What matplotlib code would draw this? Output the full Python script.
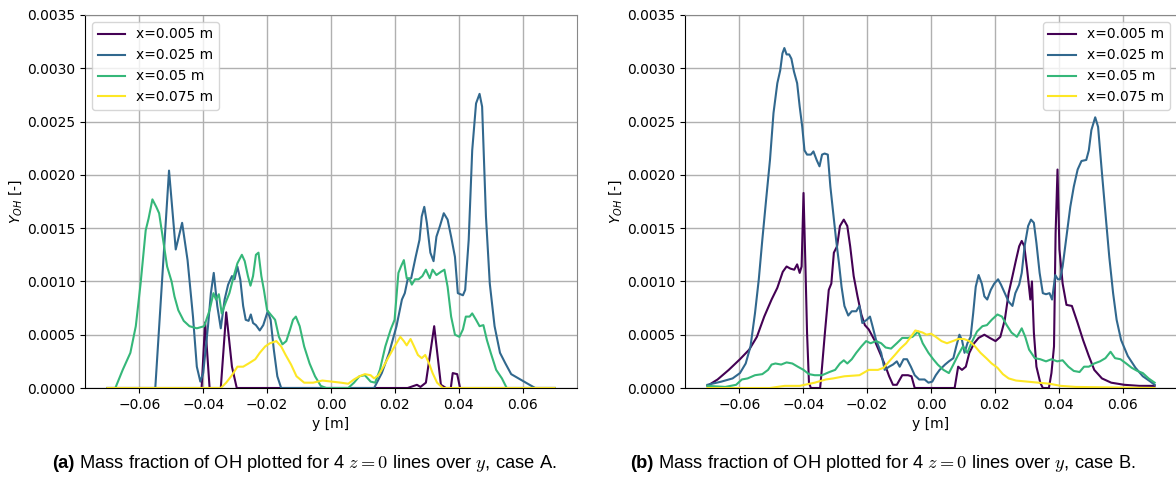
import numpy as np
import matplotlib
matplotlib.use('Agg')
import matplotlib.pyplot as plt

# line positions (x) and colours taken from viridis
labels = ['x=0.005 m', 'x=0.025 m', 'x=0.05 m', 'x=0.075 m']
colors = ['#440154', '#31688e', '#35b779', '#fde725']

# ---------- case A ----------
a_y1 = [-0.07, -0.0405, -0.0394, -0.038, -0.0345, -0.0328, -0.031, -0.0295, -0.028,
        0.024, 0.0269, 0.028, 0.0297, 0.0323, 0.0344, 0.036, 0.0375, 0.0381, 0.0395, 0.0404, 0.041, 0.07]
a_Y1 = [0, 0, 0.000615, 0, 0, 0.00071, 0.0002, 0, 0,
        0, 0.00003, 0.00001, 0.00005, 0.00058, 0.00003, 0, 0, 0.00014, 0.00013, 0, 0, 0]

a_y2 = [-0.07, -0.055, -0.0507, -0.0486, -0.0466, -0.0449, -0.0432, -0.042, -0.0409, -0.040,
        -0.0385, -0.0376, -0.0367, -0.0356, -0.0345, -0.0333, -0.0322, -0.031, -0.0302, -0.0293,
        -0.0284, -0.0275, -0.0267, -0.0258, -0.0251, -0.0244, -0.0235, -0.0223, -0.0212, -0.0198,
        -0.0189, -0.0179, -0.0168, -0.0156, 0.0135, 0.0159, 0.0182, 0.0205, 0.0222, 0.0231,
        0.024, 0.0251, 0.0265, 0.0277, 0.0284, 0.0292, 0.030, 0.0311, 0.0321, 0.033,
        0.0341, 0.0353, 0.0365, 0.0376, 0.0388, 0.0397, 0.0413, 0.042, 0.0431, 0.0442,
        0.0454, 0.0465, 0.0473, 0.0485, 0.0497, 0.0512, 0.0529, 0.0546, 0.0564, 0.0587,
        0.061, 0.0639, 0.07]
a_Y2 = [0, 0, 0.00204, 0.0013, 0.00155, 0.0012, 0.00067, 0.0002, 0.00006, 0.00014,
        0.00058, 0.00089, 0.00108, 0.00077, 0.00056, 0.00083, 0.00097, 0.00105, 0.00102, 0.00114,
        0.00102, 0.00077, 0.00064, 0.00063, 0.00069, 0.00061, 0.00059, 0.00054, 0.00059, 0.00072,
        0.00064, 0.00036, 0.00011, 0, 0, 0.00014, 0.00033, 0.00058, 0.00083, 0.00089,
        0.00102, 0.00103, 0.00123, 0.00139, 0.00161, 0.0017, 0.00155, 0.00127, 0.00119, 0.00142,
        0.00152, 0.00164, 0.00158, 0.00142, 0.00123, 0.00089, 0.00087, 0.00092, 0.00139, 0.00223,
        0.00267, 0.00276, 0.00264, 0.00161, 0.00098, 0.00058, 0.00033, 0.00023, 0.00013, 0.00009,
        0.00005, 0, 0]

a_y3 = [-0.07, -0.0675, -0.0652, -0.0628, -0.0611, -0.0596, -0.058, -0.0571, -0.0559, -0.0547,
        -0.0538, -0.0524, -0.0513, -0.0499, -0.049, -0.0478, -0.0461, -0.0443, -0.042, -0.0397,
        -0.038, -0.0368, -0.036, -0.0351, -0.0342, -0.033, -0.0318, -0.0307, -0.0293, -0.0279,
        -0.027, -0.026, -0.0252, -0.0244, -0.0235, -0.0227, -0.0218, -0.021, -0.020, -0.0189,
        -0.0175, -0.0163, -0.0152, -0.014, -0.0128, -0.0119, -0.011, -0.0098, -0.0084, -0.0067,
        -0.005, -0.0032, -0.0015, 0.0054, 0.0072, 0.0089, 0.0106, 0.0124, 0.0138, 0.0153,
        0.017, 0.0187, 0.0199, 0.0211, 0.0219, 0.0228, 0.0237, 0.0245, 0.0253, 0.0263,
        0.0274, 0.0286, 0.0297, 0.0309, 0.0318, 0.033, 0.0344, 0.0355, 0.0365, 0.0376,
        0.0388, 0.0402, 0.0413, 0.0422, 0.0434, 0.0442, 0.0454, 0.0465, 0.0477, 0.0488,
        0.050, 0.0517, 0.0535, 0.055, 0.07]
a_Y3 = [0, 0, 0.00017, 0.00033, 0.00058, 0.00098, 0.00148, 0.00159, 0.00177, 0.0017,
        0.00164, 0.00136, 0.00114, 0.001, 0.00086, 0.00073, 0.00063, 0.00058, 0.00056, 0.00058,
        0.00073, 0.00089, 0.00083, 0.00088, 0.0007, 0.0008, 0.00089, 0.00102, 0.00117, 0.00125,
        0.00119, 0.00105, 0.00096, 0.00105, 0.00125, 0.00127, 0.00105, 0.00092, 0.00073, 0.00069,
        0.00064, 0.00048, 0.00041, 0.00044, 0.00055, 0.00064, 0.00067, 0.00058, 0.00039, 0.00023,
        0.00011, 0.00002, 0, 0, 0.00005, 0.00011, 0.00012, 0.00006, 0.00005, 0.00017,
        0.00039, 0.00055, 0.00064, 0.00108, 0.00114, 0.0012, 0.00103, 0.00103, 0.00097, 0.00102,
        0.00102, 0.00105, 0.00111, 0.00103, 0.00111, 0.00106, 0.00109, 0.00111, 0.00095, 0.00067,
        0.0005, 0.00048, 0.00055, 0.00067, 0.00067, 0.0007, 0.00064, 0.00058, 0.00059, 0.00045,
        0.00033, 0.00017, 0.00009, 0, 0]

a_y4 = [-0.07, -0.0345, -0.0328, -0.031, -0.0293, -0.0275, -0.0258, -0.0237, -0.0223, -0.0206,
        -0.0191, -0.0171, -0.0156, -0.0142, -0.0125, -0.0108, -0.0084, -0.0056, -0.0027, 0.0002,
        0.0031, 0.0054, 0.0072, 0.0089, 0.0106, 0.0124, 0.0135, 0.0149, 0.0164, 0.0182,
        0.0199, 0.0217, 0.0228, 0.0237, 0.0249, 0.026, 0.0272, 0.0284, 0.0295, 0.0307,
        0.0318, 0.0332, 0.035, 0.07]
a_Y4 = [0, 0, 0.00005, 0.00012, 0.0002, 0.0002, 0.00023, 0.00027, 0.00033, 0.00039,
        0.00042, 0.00044, 0.00039, 0.00031, 0.00022, 0.00011, 0.00005, 0.00005, 0.00007, 0.00006,
        0.00005, 0.00004, 0.00008, 0.00011, 0.00013, 0.00012, 0.00009, 0.00012, 0.0002, 0.0003,
        0.00039, 0.00048, 0.00044, 0.0004, 0.00046, 0.00039, 0.00031, 0.00028, 0.00031, 0.00023,
        0.00014, 0.00005, 0, 0]

# ---------- case B ----------
b_y1 = [-0.07, -0.0668, -0.0633, -0.0598, -0.0569, -0.0545, -0.0522, -0.0499, -0.0481, -0.0464,
        -0.0452, -0.044, -0.0428, -0.0419, -0.0411, -0.0405, -0.0399, -0.0393, -0.0388, -0.0382,
        -0.0376, -0.0347, -0.0341, -0.0332, -0.032, -0.0312, -0.0304, -0.0294, -0.0285, -0.0273,
        -0.0262, -0.0253, -0.0242, -0.023, -0.0218, -0.0207, -0.0195, -0.0177, -0.016, -0.0142,
        -0.0131, -0.0119, -0.0107, -0.009, -0.0072, -0.0061, -0.0051, 0.0074, 0.0085, 0.0097,
        0.0109, 0.012, 0.0135, 0.0149, 0.0167, 0.0184, 0.0202, 0.0217, 0.0231, 0.0243,
        0.0255, 0.0266, 0.0276, 0.0284, 0.0292, 0.0301, 0.0311, 0.0316, 0.0322, 0.033,
        0.0342, 0.035, 0.0369, 0.0377, 0.0385, 0.039, 0.0396, 0.0402, 0.0412, 0.0424,
        0.0441, 0.0459, 0.0476, 0.0494, 0.0511, 0.0535, 0.0564, 0.0605, 0.0652, 0.07]
b_Y1 = [0.00002, 0.00008, 0.00017, 0.00027, 0.00036, 0.00048, 0.00067, 0.00083, 0.00094, 0.00109,
        0.00114, 0.00112, 0.00111, 0.00116, 0.00108, 0.00114, 0.00183, 0.00114, 0.00052, 0.00005,
        0, 0, 0.0002, 0.00052, 0.00092, 0.00098, 0.00127, 0.00133, 0.00152, 0.00158,
        0.00152, 0.00133, 0.00105, 0.00086, 0.00069, 0.00059, 0.00055, 0.00045, 0.00033, 0.0002,
        0.00011, 0.00003, 0.00003, 0.00012, 0.00012, 0.00011, 0, 0, 0.0002, 0.00017,
        0.0002, 0.00033, 0.00042, 0.00047, 0.0005, 0.00047, 0.00044, 0.00048, 0.00064, 0.00089,
        0.00105, 0.0012, 0.00133, 0.00138, 0.00133, 0.00111, 0.00083, 0.001, 0.00052, 0.0002,
        0.00005, 0, 0, 0.00014, 0.00039, 0.00145, 0.00205, 0.0013, 0.00098, 0.00078,
        0.00077, 0.00061, 0.00045, 0.0003, 0.00017, 0.00009, 0.00005, 0.00003, 0.00002, 0.00002]

b_y2 = [-0.07, -0.0656, -0.0621, -0.0598, -0.058, -0.0565, -0.0551, -0.0539, -0.0528, -0.0516,
        -0.0504, -0.0493, -0.0481, -0.0472, -0.0465, -0.0459, -0.0452, -0.0444, -0.0437, -0.0429,
        -0.0419, -0.0411, -0.0403, -0.0396, -0.0388, -0.0376, -0.0368, -0.0358, -0.0349, -0.0341,
        -0.0333, -0.0323, -0.0315, -0.0306, -0.0297, -0.0288, -0.028, -0.0271, -0.0259, -0.0248,
        -0.0234, -0.0224, -0.0215, -0.0201, -0.0191, -0.0183, -0.0172, -0.0156, -0.0145, -0.0131,
        -0.0119, -0.0107, -0.0098, -0.0086, -0.0075, -0.0063, -0.0051, -0.0037, -0.002, -0.0008,
        0.0004, 0.0015, 0.0027, 0.0044, 0.0056, 0.007, 0.0079, 0.0089, 0.0097, 0.0105,
        0.0114, 0.0124, 0.0132, 0.014, 0.0149, 0.0159, 0.0167, 0.0176, 0.0187, 0.0198,
        0.021, 0.0219, 0.0231, 0.0243, 0.0255, 0.0264, 0.0276, 0.0284, 0.0293, 0.0304,
        0.0313, 0.0322, 0.033, 0.034, 0.035, 0.036, 0.0371, 0.0379, 0.0389, 0.0397,
        0.0404, 0.0412, 0.0424, 0.0436, 0.0447, 0.0459, 0.0471, 0.0486, 0.0494, 0.0502,
        0.0514, 0.0523, 0.0535, 0.0546, 0.0558, 0.057, 0.0581, 0.0595, 0.0616, 0.064,
        0.0663, 0.0687, 0.07]
b_Y2 = [0.00003, 0.00006, 0.00009, 0.00014, 0.00023, 0.00039, 0.0007, 0.00102, 0.00139, 0.00177,
        0.00214, 0.00258, 0.00286, 0.00298, 0.00314, 0.00319, 0.00313, 0.00313, 0.00309, 0.00297,
        0.00286, 0.00264, 0.00245, 0.00223, 0.00219, 0.00219, 0.00222, 0.00214, 0.00208, 0.00219,
        0.0022, 0.00219, 0.00189, 0.00164, 0.00139, 0.00117, 0.00095, 0.00077, 0.00068, 0.00072,
        0.00072, 0.00077, 0.00061, 0.00064, 0.00067, 0.00058, 0.00045, 0.00033, 0.00017, 0.0002,
        0.00022, 0.00025, 0.0002, 0.00027, 0.00027, 0.0002, 0.00012, 0.00008, 0.00008, 0.00005,
        0.00006, 0.00012, 0.00017, 0.00022, 0.00025, 0.00028, 0.00039, 0.0005, 0.00045, 0.00033,
        0.00042, 0.00048, 0.0007, 0.00095, 0.00106, 0.00098, 0.00086, 0.00083, 0.00092, 0.00098,
        0.00102, 0.00097, 0.00089, 0.00081, 0.00077, 0.00089, 0.00097, 0.00108, 0.00133, 0.00152,
        0.00158, 0.00155, 0.00136, 0.00108, 0.00089, 0.00088, 0.00089, 0.00083, 0.00106, 0.00102,
        0.00102, 0.00114, 0.00142, 0.0017, 0.00189, 0.00205, 0.00213, 0.00214, 0.00223, 0.00242,
        0.00254, 0.00245, 0.00202, 0.00164, 0.00123, 0.00089, 0.00064, 0.00045, 0.0003, 0.00019,
        0.00011, 0.00006, 0.00003]

b_y3 = [-0.07, -0.0644, -0.061, -0.0592, -0.0574, -0.0551, -0.0528, -0.051, -0.0499, -0.0487,
        -0.0469, -0.0452, -0.0434, -0.0417, -0.0399, -0.0382, -0.0364, -0.0341, -0.0318, -0.030,
        -0.0285, -0.0273, -0.0262, -0.0248, -0.0234, -0.0218, -0.0203, -0.0189, -0.0172, -0.0156,
        -0.0142, -0.0125, -0.0107, -0.009, -0.0072, -0.0058, -0.004, -0.0026, -0.0008, 0.0007,
        0.0021, 0.0039, 0.0056, 0.007, 0.0085, 0.010, 0.0114, 0.0126, 0.0144, 0.0161,
        0.0175, 0.019, 0.0208, 0.0222, 0.0237, 0.0252, 0.0269, 0.0284, 0.0295, 0.0307,
        0.0325, 0.0342, 0.036, 0.0377, 0.0395, 0.0412, 0.043, 0.0447, 0.0465, 0.0479,
        0.0494, 0.0511, 0.0529, 0.0546, 0.0562, 0.0576, 0.0593, 0.0611, 0.0628, 0.0646,
        0.0663, 0.0681, 0.07]
b_Y3 = [0.00002, 0.00001, 0.00003, 0.00008, 0.00009, 0.00012, 0.00013, 0.00017, 0.00022, 0.00023,
        0.00022, 0.00024, 0.00023, 0.0002, 0.00017, 0.00013, 0.00012, 0.00012, 0.00015, 0.00017,
        0.00023, 0.00026, 0.00023, 0.00027, 0.00033, 0.00039, 0.00044, 0.00042, 0.00044, 0.00042,
        0.00038, 0.00037, 0.00042, 0.00047, 0.00047, 0.00048, 0.00053, 0.00042, 0.00033, 0.00027,
        0.00022, 0.00017, 0.00014, 0.00022, 0.00031, 0.00039, 0.00033, 0.00042, 0.00053, 0.00058,
        0.00059, 0.00064, 0.00069, 0.00067, 0.00059, 0.00052, 0.00048, 0.00056, 0.00048, 0.00036,
        0.00028, 0.00027, 0.00025, 0.00027, 0.00025, 0.00026, 0.0002, 0.00016, 0.00015, 0.0002,
        0.0002, 0.00023, 0.00025, 0.00028, 0.00034, 0.00028, 0.00027, 0.00023, 0.00019, 0.00016,
        0.00014, 0.00009, 0.00005]

b_y4 = [-0.07, -0.0504, -0.0458, -0.0411, -0.0364, -0.0329, -0.0306, -0.0271, -0.0224, -0.0195,
        -0.0166, -0.0148, -0.0131, -0.0113, -0.0096, -0.0078, -0.0063, -0.0049, -0.0037, -0.0026,
        -0.0014, 0.0, 0.0015, 0.0033, 0.005, 0.0068, 0.0085, 0.0103, 0.012, 0.0138,
        0.0155, 0.0173, 0.019, 0.0208, 0.0225, 0.0243, 0.0266, 0.0301, 0.0336, 0.0371,
        0.0406, 0.0453, 0.07]
b_Y4 = [0, 0, 0.00002, 0.00002, 0.00005, 0.00008, 0.00009, 0.00011, 0.00012, 0.00017,
        0.00017, 0.00019, 0.00025, 0.00031, 0.00037, 0.00042, 0.00048, 0.00054, 0.00053, 0.00052,
        0.0005, 0.00051, 0.00048, 0.00044, 0.00042, 0.00044, 0.00046, 0.00046, 0.00044, 0.00039,
        0.00033, 0.00028, 0.00023, 0.00019, 0.00013, 0.00009, 0.00007, 0.00006, 0.00005, 0.00004,
        0.00002, 0.00001, 0]

case_a = [(a_y1, a_Y1), (a_y2, a_Y2), (a_y3, a_Y3), (a_y4, a_Y4)]
case_b = [(b_y1, b_Y1), (b_y2, b_Y2), (b_y3, b_Y3), (b_y4, b_Y4)]


def plot_case(ax, lines, legend_loc):
    for (y, Y), lab, c in zip(lines, labels, colors):
        ax.plot(y, Y, color=c, lw=1.5, label=lab)
    ax.set_ylim(0, 0.0035)
    ax.set_xlabel('y [m]', fontsize=10)
    ax.set_ylabel(r'$Y_{OH}$ [-]', fontsize=10, labelpad=2)
    ax.tick_params(labelsize=10)
    ax.grid(True, color='#b0b0b0', lw=1.0)
    ax.set_axisbelow(True)
    for s in ['top', 'right']:
        ax.spines[s].set_color('#888888')
    ax.legend(loc=legend_loc, fontsize=10)


fig = plt.figure(figsize=(11.76, 4.82), dpi=100)
ax1 = fig.add_axes([85/1176, 94/482, 492/1176, 373/482])
ax2 = fig.add_axes([685/1176, 94/482, 492/1176, 373/482])
plot_case(ax1, case_a, 'upper left')
plot_case(ax2, case_b, 'upper right')

# captions under each panel, bold tag followed by normal text
captions = [('(a)', r' Mass fraction of OH plotted for 4 $z=0$ lines over $y$, case A.', 52/1176),
            ('(b)', r' Mass fraction of OH plotted for 4 $z=0$ lines over $y$, case B.', 630/1176)]
renderer = fig.canvas.get_renderer()
for tag, txt, x0 in captions:
    t = fig.text(x0, 14/482, tag, fontsize=13.2, fontweight='bold',
                 family='Liberation Sans', va='baseline')
    bb = t.get_window_extent(renderer=renderer)
    fig.text(bb.x1/fig.bbox.width, 14/482, txt, fontsize=13.2, family='Liberation Sans',
             va='baseline', math_fontfamily='cm')

fig.savefig('out.png', dpi=100)
